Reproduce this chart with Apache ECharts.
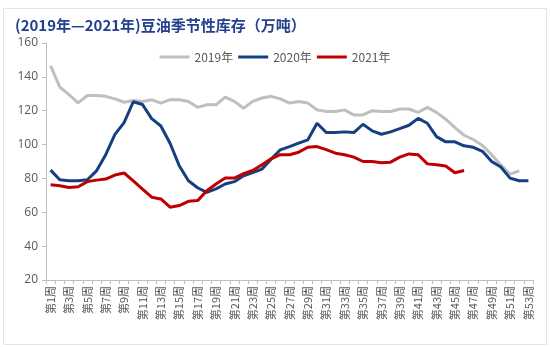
<!DOCTYPE html>
<html>
<head>
<meta charset="utf-8">
<script src="https://cdn.jsdelivr.net/npm/echarts@6/dist/echarts.min.js"></script>
<style>
html,body{margin:0;padding:0;background:#fff;}
#main{width:550px;height:347px;}
</style>
</head>
<body>
<div id="main"></div>
<script>
var weeks = ['第1周','第2周','第3周','第4周','第5周','第6周','第7周','第8周','第9周','第10周',
'第11周','第12周','第13周','第14周','第15周','第16周','第17周','第18周','第19周','第20周',
'第21周','第22周','第23周','第24周','第25周','第26周','第27周','第28周','第29周','第30周',
'第31周','第32周','第33周','第34周','第35周','第36周','第37周','第38周','第39周','第40周',
'第41周','第42周','第43周','第44周','第45周','第46周','第47周','第48周','第49周','第50周',
'第51周','第52周','第53周'];

var s2019 = [146.5,134,129.5,124.6,129,129,128.5,127,125,126,
125.5,126.5,124.5,126.5,126.5,125.5,122,123.5,123.5,128,
125.5,121.5,125.5,127.5,128.5,127,124.5,125.5,124.5,120.5,
119.5,119.5,120.5,117.5,117.5,120,119.5,119.5,121,121,
119,122,119,115,110,105.5,103,99.5,94,88,
82.5,84.5];

var s2020 = [84.9,79.2,78.6,78.6,79.2,84.5,94,106,113,125.3,
123.7,115.3,111,100.8,87.5,78.6,74.5,71.8,73.8,76.7,
78.1,81.6,83.5,85.5,91.4,96.9,98.8,100.8,102.8,112.6,
107.1,107.1,107.5,107.1,112,108.1,106.1,107.5,109.4,111.4,
115.5,112.6,104.7,101.6,101.6,99.3,98.4,96,90,86.7,
80.2,78.6,78.6];

var s2021 = [76.3,75.7,74.7,75.1,78.1,79,79.6,82,83.2,78.6,
73.7,68.9,67.9,63,64,66.5,66.9,72.7,76.7,80.2,
80.2,82.8,84.7,88.1,91.6,94,94,95.5,98.4,98.8,
97,94.9,94,92.6,90,90,89.2,89.6,92.6,94.5,
94,88.6,88.1,87.3,83.4,84.7];

var yTicks = {min:20, max:160, interval:20};
var titleText = '(2019年—2021年)豆油季节性库存（万吨）';
var seriesNames = ['2019年','2020年','2021年'];

var chart = echarts.init(document.getElementById('main'), null, {renderer:'canvas'});
var gray = '#595959';
var option = {
  backgroundColor:'#ffffff',
  animation:false,
  title:{
    text:titleText,
    left:10, top:13,
    textStyle:{color:'#23408e', fontSize:15, fontWeight:'bold', fontFamily:'"Noto Sans CJK SC", sans-serif'}
  },
  legend:{
    data:seriesNames,
    left:'center', top:46,
    icon:'rect', itemWidth:30, itemHeight:3, itemGap:5,
    textStyle:{color:gray, fontSize:12, fontFamily:'"Noto Sans CJK SC", sans-serif'}
  },
  grid:{left:46, right:17, top:43, bottom:67, containLabel:false},
  xAxis:{
    type:'category',
    data:weeks,
    boundaryGap:true,
    axisLine:{lineStyle:{color:'#bfbfbf', width:1}},
    axisTick:{show:true, interval:0, length:4, lineStyle:{color:'#bfbfbf'}},
    axisLabel:{interval:1, rotate:90, color:gray, fontSize:11, margin:6,
      fontFamily:'"Noto Sans CJK SC", serif'},
    splitLine:{show:false}
  },
  yAxis:{
    type:'value',
    min:yTicks.min, max:yTicks.max, interval:yTicks.interval,
    axisLine:{show:true, lineStyle:{color:'#bfbfbf', width:1}},
    axisTick:{show:true, length:4, lineStyle:{color:'#bfbfbf'}},
    axisLabel:{color:gray, fontSize:12, margin:8, fontFamily:'"Open Sans", sans-serif'},
    splitLine:{show:false}
  },
  graphic:[{
    type:'rect', silent:true, z:-1,
    shape:{x:3.5, y:8.5, width:543, height:336},
    style:{fill:'none', stroke:'#e4e4e4', lineWidth:1}
  }],
  series:[
    {name:seriesNames[0], type:'line', data:s2019, showSymbol:false, symbol:'none',
     lineStyle:{color:'#bfbfbf', width:3}, itemStyle:{color:'#bfbfbf'}, z:2},
    {name:seriesNames[1], type:'line', data:s2020, showSymbol:false, symbol:'none',
     lineStyle:{color:'#15407f', width:3}, itemStyle:{color:'#15407f'}, z:3},
    {name:seriesNames[2], type:'line', data:s2021, showSymbol:false, symbol:'none',
     lineStyle:{color:'#c00000', width:3}, itemStyle:{color:'#c00000'}, z:4}
  ]
};
chart.setOption(option);
</script>
</body>
</html>
